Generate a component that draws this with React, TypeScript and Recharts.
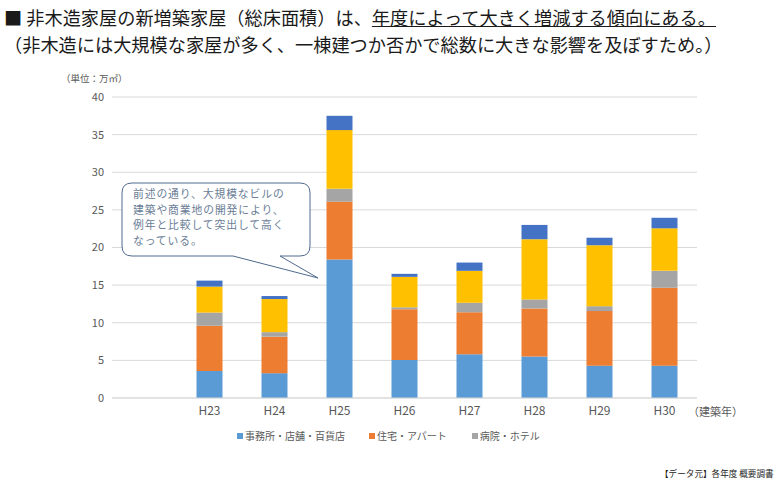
import React from "react";
import { Bar, BarChart, CartesianGrid, Legend, XAxis, YAxis } from "recharts";

// 建築年（先頭は空のカテゴリ）
const years = ["", "H23", "H24", "H25", "H26", "H27", "H28", "H29", "H30"];

// 万㎡
const office = [null, 3.6, 3.3, 18.4, 5.05, 5.8, 5.5, 4.3, 4.3];
const housing = [null, 6.0, 4.85, 7.7, 6.75, 5.6, 6.4, 7.25, 10.35];
const hospital = [null, 1.75, 0.6, 1.7, 0.25, 1.25, 1.2, 0.65, 2.25];
const factory = [null, 3.45, 4.4, 7.8, 4.05, 4.25, 8.0, 8.1, 5.65];
const other = [null, 0.8, 0.4, 1.9, 0.4, 1.1, 1.9, 1.0, 1.4];

const yTicks = [0, 5, 10, 15, 20, 25, 30, 35, 40];

const legendKeys = ["office", "housing", "hospital"];

const calloutLines = [
  "前述の通り、大規模なビルの",
  "建築や商業地の開発により、",
  "例年と比較して突出して高く",
  "なっている。",
];

const data = years.map((year, i) => ({
  year,
  office: office[i],
  housing: housing[i],
  hospital: hospital[i],
  factory: factory[i],
  other: other[i],
}));

const FONT = '"Noto Sans CJK JP", "Noto Sans", sans-serif';

function LegendContent(props: any) {
  const items = (props.payload || []).filter((p: any) =>
    legendKeys.includes(p.dataKey)
  );
  const gaps = [0, 24, 25];
  return (
    <div
      style={{
        display: "flex",
        paddingLeft: 237,
        fontFamily: FONT,
        fontSize: 10,
        color: "#595959",
        lineHeight: "14px",
        height: 14,
      }}
    >
      {items.map((p: any, i: number) => (
        <div
          key={p.dataKey}
          style={{ display: "flex", alignItems: "center", marginLeft: gaps[i] }}
        >
          <span
            style={{
              display: "inline-block",
              width: 6,
              height: 6,
              background: p.color,
              marginRight: 2,
            }}
          />
          {p.value}
        </div>
      ))}
    </div>
  );
}

export default function App() {
  return (
    <div
      style={{
        position: "absolute",
        left: 0,
        top: 0,
        width: 780,
        height: 485,
        background: "#fff",
        fontFamily: FONT,
      }}
    >
      <div
        style={{
          position: "absolute",
          left: 4,
          top: 4,
          fontSize: 18.2,
          lineHeight: "27px",
          color: "#1a1a1a",
          whiteSpace: "nowrap",
        }}
      >
        <div>
          ■ 非木造家屋の新増築家屋（総床面積）は、
          <span style={{ textDecoration: "underline" }}>
            年度によって大きく増減する傾向にある。
          </span>
        </div>
        <div>（非木造には大規模な家屋が多く、一棟建つか否かで総数に大きな影響を及ぼすため。）</div>
      </div>
      <div
        style={{
          position: "absolute",
          left: 61,
          top: 71,
          fontSize: 9.5,
          color: "#595959",
          whiteSpace: "nowrap",
        }}
      >
        （単位：万㎡）
      </div>
      <BarChart
        width={780}
        height={485}
        data={data}
        margin={{ top: 97, right: 83, left: 0, bottom: 43 }}
        barCategoryGap="30%"
      >
        <CartesianGrid vertical={false} stroke="#D9D9D9" />
        <XAxis
          dataKey="year"
          height={30}
          tickLine={false}
          axisLine={{ stroke: "#D9D9D9" }}
          tick={{ fontSize: 12, fill: "#595959", fontFamily: FONT }}
          interval={0}
        />
        <YAxis
          width={112}
          domain={[0, 40]}
          ticks={yTicks}
          tickLine={false}
          axisLine={false}
          tick={{ fontSize: 11, fill: "#595959", fontFamily: FONT }}
        />
        <Legend
          verticalAlign="bottom"
          content={LegendContent}
          wrapperStyle={{ top: 429, left: 0, width: 780 }}
        />
        <Bar dataKey="office" name="事務所・店舗・百貨店" stackId="a" fill="#5B9BD5" isAnimationActive={false} />
        <Bar dataKey="housing" name="住宅・アパート" stackId="a" fill="#ED7D31" isAnimationActive={false} />
        <Bar dataKey="hospital" name="病院・ホテル" stackId="a" fill="#A5A5A5" isAnimationActive={false} />
        <Bar dataKey="factory" name="工場・倉庫" stackId="a" fill="#FFC000" isAnimationActive={false} />
        <Bar dataKey="other" name="その他" stackId="a" fill="#4472C4" isAnimationActive={false} />
      </BarChart>
      <svg
        width={780}
        height={485}
        style={{ position: "absolute", left: 0, top: 0, pointerEvents: "none" }}
      >
        {/* 吹き出し（H25 を指す） */}
        <path
          d="M132,183 H300 Q310,183 310,193 V246 Q310,256 300,256 H280 L318,278 L233,256 H132 Q122,256 122,246 V193 Q122,183 132,183 Z"
          fill="#fff"
          stroke="#4F6A8C"
          strokeWidth={1}
        />
        <text fontFamily={FONT} fontSize={10.8} letterSpacing={0.9} fill="#6A7D96">
          {calloutLines.map((line, i) => (
            <tspan key={i} x={133} y={198 + i * 15.6}>
              {line}
            </tspan>
          ))}
        </text>
        <text x={688} y={416} fontFamily={FONT} fontSize={11} fill="#595959">
          （建築年）
        </text>
        <text x={660} y={477} fontFamily={FONT} fontSize={8.6} fill="#222">
          【データ元】各年度 概要調書
        </text>
      </svg>
    </div>
  );
}
